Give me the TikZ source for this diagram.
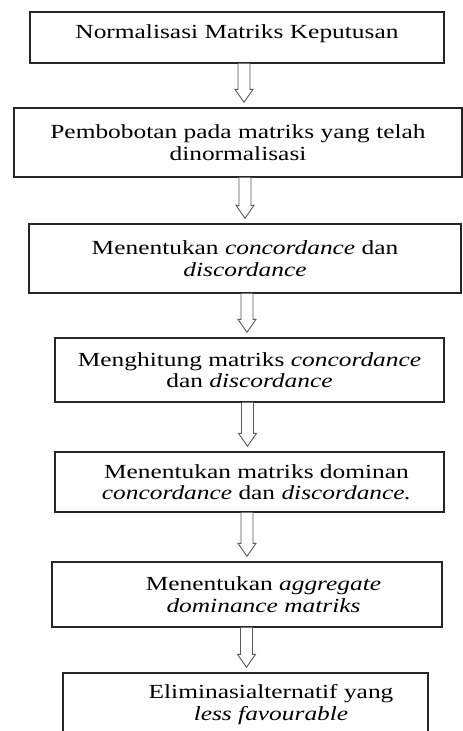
\documentclass[tikz,border=0pt]{standalone}
\usepackage{fontspec}
\setmainfont{Liberation Serif}[FakeStretch=1.27]
\usetikzlibrary{calc}

% hollow block arrow from the bottom of #1 to just above #2, shaft centred at x=#3
\newcommand{\flowarrow}[3]{%
  \draw[hollow] let \p1=(#1.south), \p2=(#2.north) in
    (#3-6,\y1) -- (#3-6,\y2+18pt) -- (#3-9,\y2+18pt) -- (#3,\y2+5pt)
    -- (#3+9,\y2+18pt) -- (#3+6,\y2+18pt) -- (#3+6,\y1);}

\begin{document}
\begin{tikzpicture}[x=1pt, y=-1pt,
  stepbox/.style={rectangle, draw=black!85, line width=1.4pt, inner sep=0pt,
    align=center, font=\fontsize{20}{21.5}\selectfont},
  hollow/.style={draw=black!65, line width=0.9pt, fill=white}]
\clip (0,0) rectangle (463,731);

\node[stepbox, minimum width=414pt, minimum height=51pt, text depth=11pt] (b1) at (237,37.5) {Normalisasi Matriks Keputusan};
\node[stepbox, minimum width=448pt, minimum height=69pt] (b2) at (238,142.5) {Pembobotan pada matriks yang telah\\ dinormalisasi};
\node[stepbox, minimum width=432pt, minimum height=69pt] (b3) at (245,258.5) {Menentukan \emph{concordance} dan\\ \emph{discordance}};
\node[stepbox, minimum width=389pt, minimum height=64pt] (b4) at (249.5,370) {Menghitung matriks \emph{concordance}\\ dan \emph{discordance}};
\node[stepbox, minimum width=389pt, minimum height=60pt] (b5) at (249.5,482) {\hspace*{14pt}Menentukan matriks dominan\\ \hspace*{14pt}\emph{concordance} dan \emph{discordance.}};
\node[stepbox, minimum width=390pt, minimum height=65pt] (b6) at (247,594.5) {\hspace*{33pt}Menentukan \emph{aggregate}\\ \hspace*{33pt}\emph{dominance matriks}};
\node[stepbox, minimum width=365pt, minimum height=63pt] (b7) at (245.5,704.5) {\hspace*{51pt}Eliminasialternatif yang\\ \hspace*{51pt}\emph{less favourable}};

\flowarrow{b1}{b2}{244}
\flowarrow{b2}{b3}{245}
\flowarrow{b3}{b4}{247}
\flowarrow{b4}{b5}{247.5}
\flowarrow{b5}{b6}{247}
\flowarrow{b6}{b7}{246.5}

\end{tikzpicture}
\end{document}
